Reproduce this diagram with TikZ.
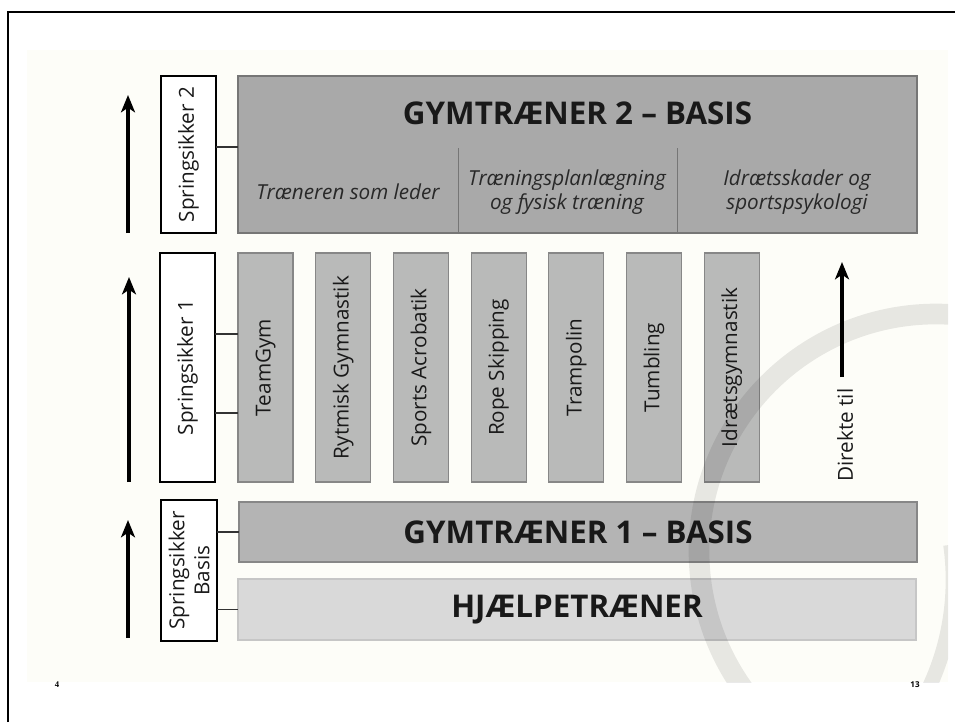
\documentclass[tikz,border=0pt]{standalone}
\usepackage{fontspec}
\setmainfont{Open Sans}
\newfontfamily\serifnum{Liberation Serif}
\usetikzlibrary{arrows.meta,fit,calc}

\definecolor{cream}{RGB}{253,253,248}
\definecolor{gtwo}{RGB}{169,169,169}
\definecolor{gtwoline}{RGB}{118,118,118}
\definecolor{colfill}{RGB}{185,186,185}
\definecolor{colline}{RGB}{135,135,135}
\definecolor{gone}{RGB}{180,180,180}
\definecolor{goneline}{RGB}{135,135,135}
\definecolor{hjfill}{RGB}{217,217,217}
\definecolor{hjline}{RGB}{198,198,198}
\definecolor{txt}{RGB}{25,25,25}
\definecolor{subtxt}{RGB}{40,40,40}

\begin{document}
\begin{tikzpicture}[x=0.75pt,y=-0.75pt,
  box/.style={inner sep=0pt, outer sep=0pt, line width=0.8pt},
  sbox/.style={box, draw=black, fill=white, line width=1.1pt},
  gtwobox/.style={box, draw=gtwoline, fill=gtwo},
  colbox/.style={box, draw=colline, fill=colfill},
  gonebox/.style={box, draw=goneline, fill=gone},
  hjbox/.style={box, draw=hjline, fill=hjfill, line width=1.2pt},
  title/.style={font=\bfseries\fontsize{23.5}{27}\selectfont, text=txt, inner sep=0pt},
  subtitle/.style={font=\itshape\fontsize{15.5}{18}\selectfont, text=subtxt, align=center, inner sep=0pt},
  vtext/.style={rotate=90, font=\fontsize{15.5}{18.75}\selectfont, text=txt, inner sep=0pt, align=center},
  link/.style={line width=1pt, draw=black!80},
  bigarrow/.style={line width=2.3pt, -{Stealth[length=13pt,width=10.5pt,inset=3.5pt]}},
  pagenum/.style={font=\bfseries\fontsize{6}{7}\selectfont, text=black, inner sep=0pt}
]
\useasboundingbox (0,0) rectangle (955,722);
\fill[white] (0,0) rectangle (955,722);
\fill[cream] (27,50) rectangle (948,682);
\draw[line width=1.5pt] (8,722) -- (8,12) -- (956,12);

% Springsikker 2 level
\node[sbox, fit={(161,76) (216,233)}] (s2) {};
\node[vtext] at (s2.center) {Springsikker 2};
\node[gtwobox, fit={(238,76) (917,233)}] (g2) {};
\draw[gtwoline, line width=0.7pt] (458,233) -- (458,148);
\draw[gtwoline, line width=0.7pt] (677,233) -- (677,148);
\node[title] (g2t) at (577.5,113) {GYMTRÆNER 2 – BASIS};
\node[subtitle] (g2a) at (348,192) {Træneren som leder};
\node[subtitle] (g2b) at (567,192) {Træningsplanlægning\\og fysisk træning};
\node[subtitle] (g2c) at (797,192) {Idrætsskader og\\sportspsykologi};
\draw[link] (s2.east |- 0,147) -- (g2.west |- 0,147);

% Springsikker 1 level
\node[sbox, fit={(160,253) (215,482)}] (s1) {};
\node[vtext] at (s1.center) {Springsikker 1};
\foreach \i/\t in {1/TeamGym, 2/Rytmisk Gymnastik, 3/Sports Acrobatik, 4/Rope Skipping, 5/Trampolin, 6/Tumbling, 7/Idrætsgymnastik} {
  \pgfmathsetmacro\xa{238+(\i-1)*77.7}
  \node[colbox, fit={(\xa,253) (\xa+55,482)}] (c\i) {};
  \node[vtext] (ct\i) at (c\i.center) {\t};
}
\draw[link] (s1.east |- 0,334) -- (c1.west |- 0,334);
\draw[link] (s1.east |- 0,413) -- (c1.west |- 0,413);

\coordinate (d1) at (842,377);
\coordinate (d2) at (842,262);
\draw[bigarrow] (d1) -- (d2);
\node[vtext] (dt) at (845,435) {Direkte til};

% Basis level
\node[sbox, fit={(161,500) (217,641)}] (sb) {};
\node[vtext] at (sb.center) {Springsikker\\Basis};
\node[gonebox, fit={(239,502) (917,562)}] (g1) {};
\node[title] at (g1.center) {GYMTRÆNER 1 – BASIS};
\node[hjbox, fit={(238,579) (916,640)}] (hj) {};
\node[title] at (hj.center) {HJÆLPETRÆNER};
\draw[link] (sb.east |- g1.west) -- (g1.west);
\draw[link] (sb.east |- hj.west) -- (hj.west);

% left arrows
\coordinate (a1s) at (128,233);
\coordinate (a1e) at (128,95);
\coordinate (a2s) at (129,482);
\coordinate (a2e) at (129,277);
\coordinate (a3s) at (128,638);
\coordinate (a3e) at (128,520);
\draw[bigarrow] (a1s) -- (a1e);
\draw[bigarrow] (a2s) -- (a2e);
\draw[bigarrow] (a3s) -- (a3e);

% watermark
\begin{scope}
\clip (27,50) rectangle (948,682);
\draw[line width=15.5pt, black, opacity=0.085] (936,551) circle[radius=237];
\draw[line width=11pt, black, opacity=0.085] (700,580) ++(-8:253) arc[start angle=-8, end angle=30, radius=253];
\end{scope}

% page numbers
\node[pagenum, font=\serifnum\bfseries\fontsize{6.5}{7}\selectfont] (p4) at (57,685) {4};
\node[pagenum] (p13) at (915,685) {13};
\end{tikzpicture}
\end{document}
